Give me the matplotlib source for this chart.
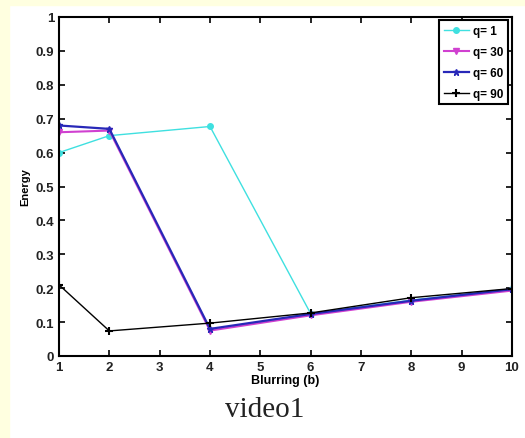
import matplotlib

matplotlib.use("Agg")
import matplotlib.pyplot as plt  # noqa: E402
from matplotlib.patches import Rectangle  # noqa: E402

# blurring levels (x) and energy per quality setting
blur = [1, 2, 4, 6, 8, 10]
q1 = [0.60, 0.65, 0.677, 0.125, 0.165, 0.197]
q30 = [0.66, 0.665, 0.075, 0.12, 0.16, 0.193]
q60 = [0.68, 0.67, 0.08, 0.124, 0.163, 0.197]
q90 = [0.21, 0.074, 0.097, 0.127, 0.172, 0.199]
labels = ["q= 1", "q= 30", "q= 60", "q= 90"]

xticks = list(range(1, 11))
yticks = [i / 10 for i in range(11)]
ytick_labels = ["0"] + [f"{v:.1f}" for v in yticks[1:-1]] + ["1"]

plt.rcParams["font.family"] = ["Liberation Sans", "DejaVu Sans"]

fig = plt.figure(figsize=(5.25, 4.39), dpi=100)
fig.patch.set_facecolor("white")
# light yellow page strip on the left and top
fig.patches.append(Rectangle((0, 0), 9 / 525, 1, transform=fig.transFigure,
                             color="#FFFFE0", zorder=0))
fig.patches.append(Rectangle((0, 1 - 6 / 439), 1, 6 / 439,
                             transform=fig.transFigure, color="#FFFFE0", zorder=0))

ax = fig.add_axes([59 / 525, 1 - 357 / 439, (512 - 59) / 525, (357 - 18) / 439])

ax.plot(blur, q1, color="#3FE0E0", lw=1.0, marker="o", ms=4, label=labels[0])
ax.plot(blur, q30, color="#D040D0", lw=1.5, marker="v", ms=4, label=labels[1])
ax.plot(blur, q60, color="#2828B8", lw=1.6, marker="*", ms=5, label=labels[2])
ax.plot(blur, q90, color="black", lw=1.0, marker="+", ms=6, mew=1.5,
        label=labels[3])

ax.set_xlim(1, 10)
ax.set_ylim(0, 1)
ax.set_xticks(xticks)
ax.set_yticks(yticks)
ax.set_yticklabels(ytick_labels)
ax.tick_params(direction="in", top=True, right=True, length=4, width=1.2,
               labelsize=9.5)
for lab in ax.get_xticklabels() + ax.get_yticklabels():
    lab.set_fontweight("bold")
    lab.set_color("#222222")
for sp in ax.spines.values():
    sp.set_linewidth(1.5)

ax.set_xlabel("Blurring (b)", fontsize=9, fontweight="bold", labelpad=1)
ax.set_ylabel("Energy", fontsize=8, fontweight="bold", labelpad=4)

leg = ax.legend(loc="upper right", fontsize=8.5, fancybox=False, framealpha=1,
                edgecolor="black", handlelength=2.1, handletextpad=0.4,
                borderpad=0.4, labelspacing=0.75, borderaxespad=0,
                bbox_to_anchor=(0.992, 0.99))
leg.get_frame().set_linewidth(1.5)
for t in leg.get_texts():
    t.set_fontweight("bold")

fig.text(265 / 525, 1 - 410 / 439, "video1", ha="center", va="center",
         fontsize=21, family=["Liberation Serif", "DejaVu Serif"],
         color="#222222")

fig.savefig("out.png", dpi=100)
